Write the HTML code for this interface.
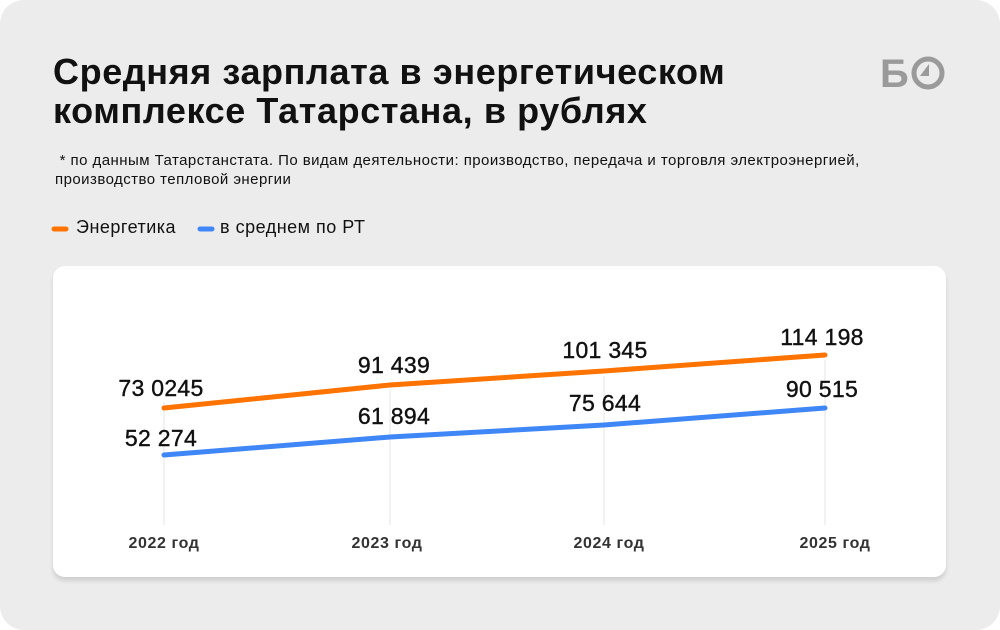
<!DOCTYPE html>
<html><head><meta charset="utf-8"><style>
body{margin:0;width:1000px;height:630px;background:#fff;font-family:"Liberation Sans",sans-serif;}
.bg{position:absolute;left:0;top:0;width:1000px;height:630px;background:#ececec;border-radius:24px;overflow:hidden}
h1{position:absolute;left:53px;top:52px;margin:0;font-size:36px;line-height:39px;font-weight:bold;color:#111;letter-spacing:0.6px}
.note{position:absolute;left:55px;top:151px;font-size:15px;line-height:19px;color:#111;letter-spacing:0.45px}
.leg{position:absolute;top:217px;font-size:18px;color:#111;letter-spacing:0.5px}
.card{position:absolute;left:53px;top:266px;width:893px;height:311px;background:#fff;border-radius:12px;box-shadow:0 4px 4px rgba(0,0,0,0.12)}
</style></head><body><div class="bg">
<h1>Средняя зарплата в энергетическом<br>комплексе Татарстана, в рублях</h1>
<div class="note">&nbsp;* по данным Татарстанстата. По видам деятельности: производство, передача и торговля электроэнергией,<br>производство тепловой энергии</div>
<svg style="position:absolute;left:0;top:0" width="1000" height="630">
<line x1="54" y1="229" x2="66" y2="229" stroke="#ff7300" stroke-width="5" stroke-linecap="round"/>
<line x1="200" y1="229" x2="212" y2="229" stroke="#3f86f7" stroke-width="5" stroke-linecap="round"/>
<text x="880" y="87" font-size="40" font-weight="bold" fill="#9a9a9a" font-family="Liberation Sans">Б</text>
<circle cx="928" cy="73" r="14" fill="none" stroke="#9a9a9a" stroke-width="5"/>
<path d="M929 64 L929 76 L920 76 Z" fill="#9a9a9a"/>
</svg>
<div class="leg" style="left:76px">Энергетика</div>
<div class="leg" style="left:220px">в среднем по РТ</div>
<div class="card"></div>
<svg style="position:absolute;left:0;top:0" width="1000" height="630" font-family="Liberation Sans">
<g stroke="#e6e6e6" stroke-width="1">
<line x1="164" y1="402" x2="164" y2="525"/><line x1="390" y1="390" x2="390" y2="525"/>
<line x1="604" y1="376" x2="604" y2="525"/><line x1="825" y1="360" x2="825" y2="525"/></g>
<polyline points="164,408 390,385 604,371 825,355" fill="none" stroke="#ff7300" stroke-width="5" stroke-linecap="round" stroke-linejoin="round"/>
<polyline points="164,455 390,437 604,425 825,408" fill="none" stroke="#3f86f7" stroke-width="5" stroke-linecap="round" stroke-linejoin="round"/>
<g font-size="23" fill="#111" text-anchor="middle" stroke="#111" stroke-width="0.4" letter-spacing="0.3">
<text x="161" y="396">73 0245</text><text x="394" y="373">91 439</text>
<text x="605" y="358">101 345</text><text x="822" y="345">114 198</text>
<text x="161" y="446">52 274</text><text x="394" y="424">61 894</text>
<text x="605" y="411">75 644</text><text x="822" y="397">90 515</text></g>
<g font-size="16" font-weight="bold" fill="#333" text-anchor="middle" letter-spacing="0.6">
<text x="164" y="548">2022 год</text><text x="387" y="548">2023 год</text>
<text x="609" y="548">2024 год</text><text x="835" y="548">2025 год</text></g>
</svg>
</div></body></html>
